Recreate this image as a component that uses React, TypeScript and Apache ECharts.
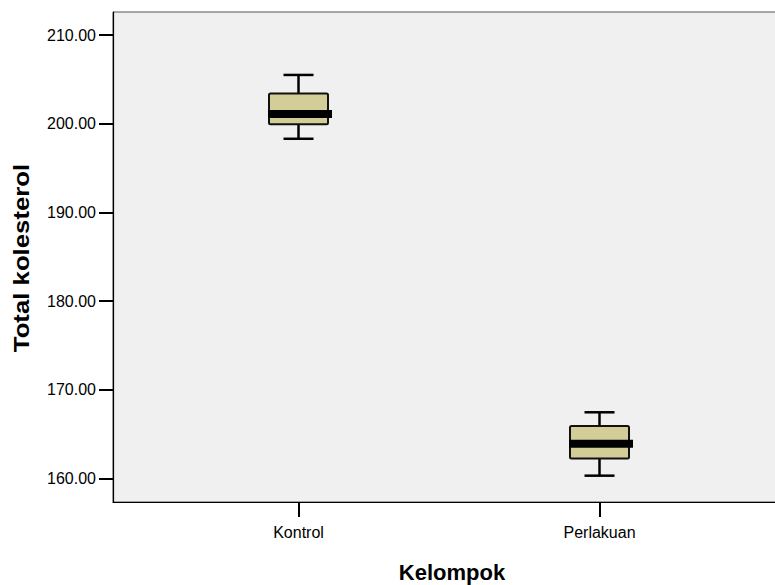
import React, { useEffect, useRef } from "react";
import * as echarts from "echarts";

const categories = ["Kontrol", "Perlakuan"];
const whiskerLow = [198.3, 160.3];
const q1 = [199.95, 162.25];
const median = [201.1, 163.9];
const q3 = [203.4, 165.9];
const whiskerHigh = [205.5, 167.45];
const yTicks = [160, 170, 180, 190, 200, 210];
const xTicks = [1, 2];

export default function App() {
  const ref = useRef<HTMLDivElement>(null);
  useEffect(() => {
    if (!ref.current) return;
    const chart = echarts.init(ref.current, undefined, { renderer: "svg" });
    const data = categories.map((c, i) => [i + 1, whiskerLow[i], q1[i], median[i], q3[i], whiskerHigh[i]]);
    const font = "'Liberation Sans', Arial, sans-serif";
    chart.setOption({
      animation: false,
      backgroundColor: "#ffffff",
      grid: {
        left: 113,
        top: 12,
        right: -3,
        bottom: 83,
        outerBoundsMode: "none",
        containLabel: false,
        show: true,
        backgroundColor: "#F0F0F0",
        borderColor: "#555555",
        borderWidth: 1,
      },
      xAxis: {
        type: "value",
        min: 0.3837,
        max: 2.5930,
        splitLine: { show: false },
        axisLine: { show: true, lineStyle: { color: "#000", width: 1.2 } },
        axisTick: { show: true, customValues: xTicks, length: 15, lineStyle: { color: "#000", width: 2 } },
        axisLabel: {
          customValues: xTicks,
          formatter: (v: number) => categories[Math.round(v) - 1] ?? "",
          color: "#000",
          fontSize: 16,
          fontFamily: font,
          margin: 22,
        },
      },
      yAxis: {
        type: "value",
        min: 157.33,
        max: 212.6,
        splitLine: { show: false },
        axisLine: { show: true, lineStyle: { color: "#000", width: 1.2 } },
        axisTick: { show: true, customValues: yTicks, length: 14, lineStyle: { color: "#000", width: 2 } },
        axisLabel: {
          customValues: yTicks,
          formatter: (v: number) => v.toFixed(2),
          color: "#000",
          fontSize: 16,
          fontFamily: font,
          margin: 17,
        },
      },
      graphic: [
        {
          type: "text",
          x: 452,
          y: 572,
          style: {
            text: "Kelompok",
            font: `bold 22px ${font}`,
            fill: "#000",
            align: "center",
            verticalAlign: "middle",
          },
        },
        {
          type: "text",
          x: 21,
          y: 258,
          rotation: Math.PI / 2,
          scaleX: 1.12,
          style: {
            text: "Total kolesterol",
            font: `bold 23px ${font}`,
            fill: "#000",
            align: "center",
            verticalAlign: "middle",
          },
        },
      ],
      series: [
        {
          type: "custom",
          data,
          encode: { x: 0, y: [1, 2, 3, 4, 5] },
          clip: false,
          renderItem: (params: any, api: any) => {
            const xv = api.value(0);
            const pLo = api.coord([xv, api.value(1)]);
            const pQ1 = api.coord([xv, api.value(2)]);
            const pMed = api.coord([xv, api.value(3)]);
            const pQ3 = api.coord([xv, api.value(4)]);
            const pHi = api.coord([xv, api.value(5)]);
            const cx = pLo[0];
            const half = 29.5;
            const cap = 15;
            const line = { stroke: "#000", lineWidth: 2.5 };
            return {
              type: "group",
              children: [
                { type: "line", shape: { x1: cx, y1: pHi[1], x2: cx, y2: pQ3[1] }, style: line },
                { type: "line", shape: { x1: cx, y1: pQ1[1], x2: cx, y2: pLo[1] }, style: line },
                { type: "line", shape: { x1: cx - cap, y1: pHi[1], x2: cx + cap, y2: pHi[1] }, style: line },
                { type: "line", shape: { x1: cx - cap, y1: pLo[1], x2: cx + cap, y2: pLo[1] }, style: line },
                {
                  type: "rect",
                  shape: { x: cx - half, y: pQ3[1], width: half * 2, height: pQ1[1] - pQ3[1], r: 1.5 },
                  style: { fill: "#D3CE98", stroke: "#111", lineWidth: 2 },
                },
                {
                  type: "rect",
                  shape: { x: cx - half - 1, y: pMed[1] - 4, width: half * 2 + 5, height: 8 },
                  style: { fill: "#000" },
                },
              ],
            };
          },
        },
      ],
    });
    return () => chart.dispose();
  }, []);
  return <div ref={ref} style={{ position: "fixed", left: 0, top: 0, width: 775, height: 585 }} />;
}
